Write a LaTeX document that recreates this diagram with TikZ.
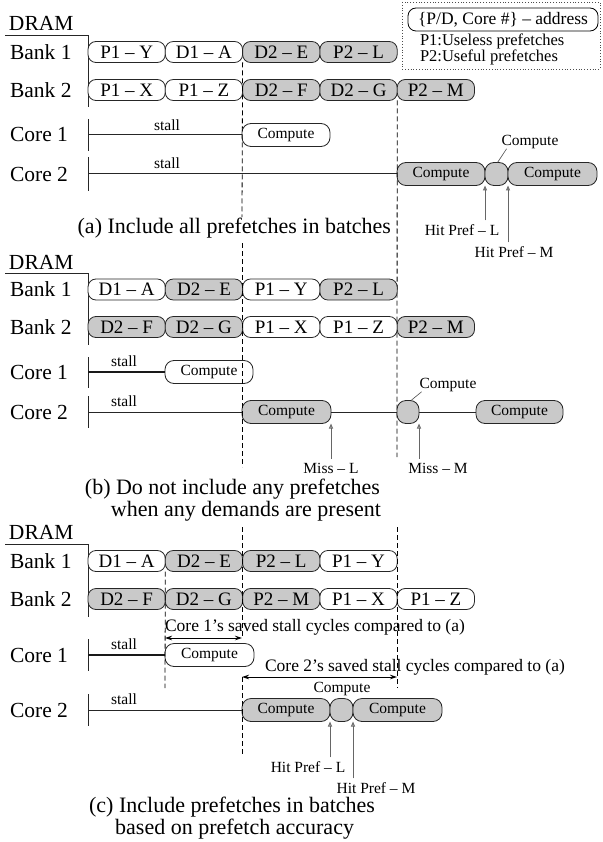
\documentclass[tikz,border=0pt]{standalone}
\usepackage{fontspec}
\setmainfont{Liberation Serif}
\usetikzlibrary{arrows.meta}
\begin{document}
\begin{tikzpicture}[x=1pt,y=-1pt,
  every node/.style={inner sep=0pt, outer sep=0pt},
  big/.style={font=\fontsize{21.5}{24}\selectfont, anchor=west},
  captxt/.style={font=\fontsize{22}{24}\selectfont, anchor=east},
  blk/.style={draw=black!85, line width=0.8pt, rounded corners=8pt, minimum height=21pt, minimum width=77.3pt, font=\fontsize{19}{21}\selectfont, anchor=west},
  wb/.style={blk, fill=white},
  gb/.style={blk, fill=black!21},
  cmp/.style={draw=black!85, line width=0.8pt, rounded corners=9pt, minimum height=23pt, font=\fontsize{15.5}{18}\selectfont, anchor=west},
  wc/.style={cmp, fill=white},
  gc/.style={cmp, fill=black!21},
  sm/.style={font=\fontsize{15.5}{18}\selectfont},
  note/.style={font=\fontsize{17.5}{20}\selectfont},
  legtxt/.style={font=\fontsize{16.5}{18}\selectfont, anchor=west},
  coreline/.style={line width=1pt, draw=black!85},
  stallthick/.style={line width=2pt, draw=black!90},
  tickline/.style={line width=0.8pt, draw=black!85},
  dsh/.style={dash pattern=on 5pt off 3pt, line width=0.8pt},
  hitarrow/.style={draw=black!60, line width=1pt, -{Triangle[open, length=5pt, width=4pt]}},
  dbl/.style={line width=0.8pt, {Stealth[length=7pt,width=4.5pt]}-{Stealth[length=7pt,width=4.5pt]}},
  lead/.style={draw=black!70, line width=0.6pt},
  legbox/.style={draw=black!70, line width=0.8pt, dash pattern=on 1pt off 1.8pt}
]
\useasboundingbox (0,0) rectangle (602,842);

% ---------------- Legend ----------------
\draw[legbox] (402,2) rectangle (600,69);
\node[draw, line width=0.8pt, rounded corners=8pt, minimum width=190pt, minimum height=23pt, note] (leg) at (503,19.5) {\{P/D, Core \#\} – address};
\node[legtxt] (p1) at (420,41) {P1:Useless prefetches};
\node[legtxt] (p2) at (420,57) {P2:Useful prefetches};

% ================= Panel (a) =================
\node[big] (dramA) at (9,23) {DRAM};
\coordinate (hA0) at (5,35); \coordinate (hA1) at (88,35); \coordinate (vA1) at (88,107);
\draw[tickline] (hA0) -- (hA1) -- (vA1);
\node[big] (b1A) at (10,52) {Bank 1};
\node[big] (b2A) at (10,90) {Bank 2};
\node[wb] (a11) at (88,52) {P1 – Y};
\node[wb] (a12) at (a11.east) {D1 – A};
\node[gb] (a13) at (a12.east) {D2 – E};
\node[gb] (a14) at (a13.east) {P2 – L};
\node[wb] (a21) at (88,90) {P1 – X};
\node[wb] (a22) at (a21.east) {P1 – Z};
\node[gb] (a23) at (a22.east) {D2 – F};
\node[gb] (a24) at (a23.east) {D2 – G};
\node[gb] (a25) at (a24.east) {P2 – M};

\node[big] (c1A) at (10,134) {Core 1};
\draw[tickline] (88,119) -- (88,151);
\coordinate (a1s) at (88,135);
\node[wc, minimum width=88pt] (a1c) at (242,135) {Compute};
\draw[coreline] (a1s) -- (a1c.west);
\node[sm] (a1st) at (167,125) {stall};

\node[big] (c2A) at (10,174) {Core 2};
\draw[tickline] (88,157) -- (88,191);
\coordinate (a2s) at (88,174);
\node[gc, minimum width=88pt] (a2c1) at (397,174) {Compute};
\node[gc, minimum width=23pt] (a2c2) at (a2c1.east) {};
\node[gc, minimum width=89pt] (a2c3) at (a2c2.east) {Compute};
\draw[coreline] (a2s) -- (a2c1.west);
\node[sm] (a2st) at (167,163) {stall};
\node[sm] (a2cl) at (530,142) {Compute};
\draw[lead] ([xshift=1pt]a2c2.north) -- ([xshift=5pt]a2cl.south west);
\node[sm] (a2hl) at (462,230) {Hit Pref – L};
\node[sm] (a2hm) at (514,252) {Hit Pref – M};
\coordinate (a2hlt) at ([yshift=4pt]a2hl.north);
\coordinate (a2hmt) at ([yshift=4pt]a2hm.north);
\draw[hitarrow] (a2hlt -| a2c2.west) -- (a2c2.south west);
\draw[hitarrow] (a2hmt -| a2c2.east) -- (a2c2.south east);

\coordinate (dA1e) at (242,217);
\coordinate (dA2e) at (397,457);
\draw[dsh] (a13.south west) -- (dA1e);
\draw[dsh] (a25.south west) -- (dA2e);

\node[captxt] (capA) at (391,228) {(a) Include all prefetches in batches};

% ================= Panel (b) =================
\node[big] (dramB) at (9,262) {DRAM};
\coordinate (hB0) at (5,273); \coordinate (hB1) at (88,273); \coordinate (vB1) at (88,345);
\draw[tickline] (hB0) -- (hB1) -- (vB1);
\node[big] (b1B) at (10,289.5) {Bank 1};
\node[big] (b2B) at (10,327) {Bank 2};
\node[wb] (b11) at (88,289.5) {D1 – A};
\node[gb] (b12) at (b11.east) {D2 – E};
\node[wb] (b13) at (b12.east) {P1 – Y};
\node[gb] (b14) at (b13.east) {P2 – L};
\node[gb] (b21) at (88,327) {D2 – F};
\node[gb] (b22) at (b21.east) {D2 – G};
\node[wb] (b23) at (b22.east) {P1 – X};
\node[wb] (b24) at (b23.east) {P1 – Z};
\node[gb] (b25) at (b24.east) {P2 – M};

\node[big] (c1B) at (10,372) {Core 1};
\draw[tickline] (88,357) -- (88,388);
\coordinate (b1s) at (88,372);
\node[wc, minimum width=88pt] (b1c) at (165,372) {Compute};
\draw[stallthick] (b1s) -- (b1c.west);
\node[sm] (b1st) at (124,361) {stall};

\node[big] (c2B) at (10,412) {Core 2};
\draw[tickline] (88,396) -- (88,428);
\coordinate (b2s) at (88,412);
\node[gc, minimum width=89pt] (b2c1) at (242,412) {Compute};
\node[gc, minimum width=22pt] (b2c2) at (397,412) {};
\node[gc, minimum width=87pt] (b2c3) at (476,412) {Compute};
\draw[coreline] (b2s) -- (b2c1.west);
\draw[coreline] (b2c1.east) -- (b2c2.west);
\draw[coreline] (b2c2.east) -- (b2c3.west);
\node[sm] (b2st) at (124,401) {stall};
\node[sm] (b2cl) at (448,385) {Compute};
\draw[lead] ([xshift=3pt]b2c2.north) -- ([xshift=2pt]b2cl.south west);
\node[sm] (b2ml) at (331,468) {Miss – L};
\node[sm] (b2mm) at (438,468) {Miss – M};
\coordinate (b2mlt) at ([yshift=4pt]b2ml.north);
\coordinate (b2mmt) at ([yshift=4pt]b2mm.north);
\draw[hitarrow] (b2mlt -| b2c1.east) -- (b2c1.south east);
\draw[hitarrow] (b2mmt -| b2c2.east) -- (b2c2.south east);

\coordinate (dB1s) at (242,243);
\coordinate (dB1e) at (242,467);
\draw[dsh] (dB1s) -- (dB1e);

\node[captxt] (capB1) at (380,489) {(b) Do not include any prefetches};
\node[captxt] (capB2) at (381,511) {when any demands are present};

% ================= Panel (c) =================
\node[big] (dramC) at (9,532) {DRAM};
\coordinate (hC0) at (5,544); \coordinate (hC1) at (88,544); \coordinate (vC1) at (88,617);
\draw[tickline] (hC0) -- (hC1) -- (vC1);
\node[big] (b1C) at (10,561) {Bank 1};
\node[big] (b2C) at (10,599) {Bank 2};
\node[wb] (c11) at (88,561) {D1 – A};
\node[gb] (c12) at (c11.east) {D2 – E};
\node[gb] (c13) at (c12.east) {P2 – L};
\node[wb] (c14) at (c13.east) {P1 – Y};
\node[gb] (c21) at (88,599) {D2 – F};
\node[gb] (c22) at (c21.east) {D2 – G};
\node[gb] (c23) at (c22.east) {P2 – M};
\node[wb] (c24) at (c23.east) {P1 – X};
\node[wb] (c25) at (c24.east) {P1 – Z};

\node[note, anchor=west] (sv1) at (165,627) {Core 1’s saved stall cycles compared to (a)};
\coordinate (sv1L) at (165,638); \coordinate (sv1R) at (242,638);
\draw[dbl] (sv1L) -- (sv1R);

\node[big] (c1C) at (10,655) {Core 1};
\draw[tickline] (88,639) -- (88,671);
\coordinate (c1s) at (88,655);
\node[wc, minimum width=89pt] (c1c) at (165,655) {Compute};
\draw[stallthick] (c1s) -- (c1c.west);
\node[sm] (c1st) at (124,644) {stall};

\node[note, anchor=west] (sv2) at (265,667) {Core 2’s saved stall cycles compared to (a)};
\coordinate (sv2L) at (242,677); \coordinate (sv2R) at (397,677);
\draw[dbl] (sv2L) -- (sv2R);

\node[big] (c2C) at (10,710) {Core 2};
\draw[tickline] (88,694) -- (88,726);
\coordinate (c2s) at (88,710);
\node[gc, minimum width=88pt] (c2c1) at (242,710) {Compute};
\node[gc, minimum width=23pt] (c2c2) at (c2c1.east) {};
\node[gc, minimum width=89pt] (c2c3) at (c2c2.east) {Compute};
\draw[coreline] (c2s) -- (c2c1.west);
\node[sm] (c2st) at (124,699) {stall};
\node[sm] (c2cl) at (342,689) {Compute};
\node[sm] (c2hl) at (308,767) {Hit Pref – L};
\node[sm] (c2hm) at (376,788) {Hit Pref – M};
\coordinate (c2hlt) at ([yshift=4pt]c2hl.north);
\coordinate (c2hmt) at ([yshift=4pt]c2hm.north);
\draw[hitarrow] (c2hlt -| c2c2.west) -- (c2c2.south west);
\draw[hitarrow] (c2hmt -| c2c2.east) -- (c2c2.south east);

\coordinate (dC0e) at (165,688);
\draw[dsh] (c11.south east) -- (dC0e);
\coordinate (dC1s) at (242,527);
\draw[dsh] (dC1s) -- (sv1R);
\coordinate (dC1e) at (242,756);
\draw[dsh] (sv2L) -- (dC1e);
\coordinate (dC2s) at (397,527);
\coordinate (dC2e) at (397,688);
\draw[dsh] (dC2s) -- (dC2e);

\node[captxt] (capC1) at (375,807) {(c) Include prefetches in batches};
\node[captxt] (capC2) at (354,829) {based on prefetch accuracy};
\end{tikzpicture}
\end{document}
